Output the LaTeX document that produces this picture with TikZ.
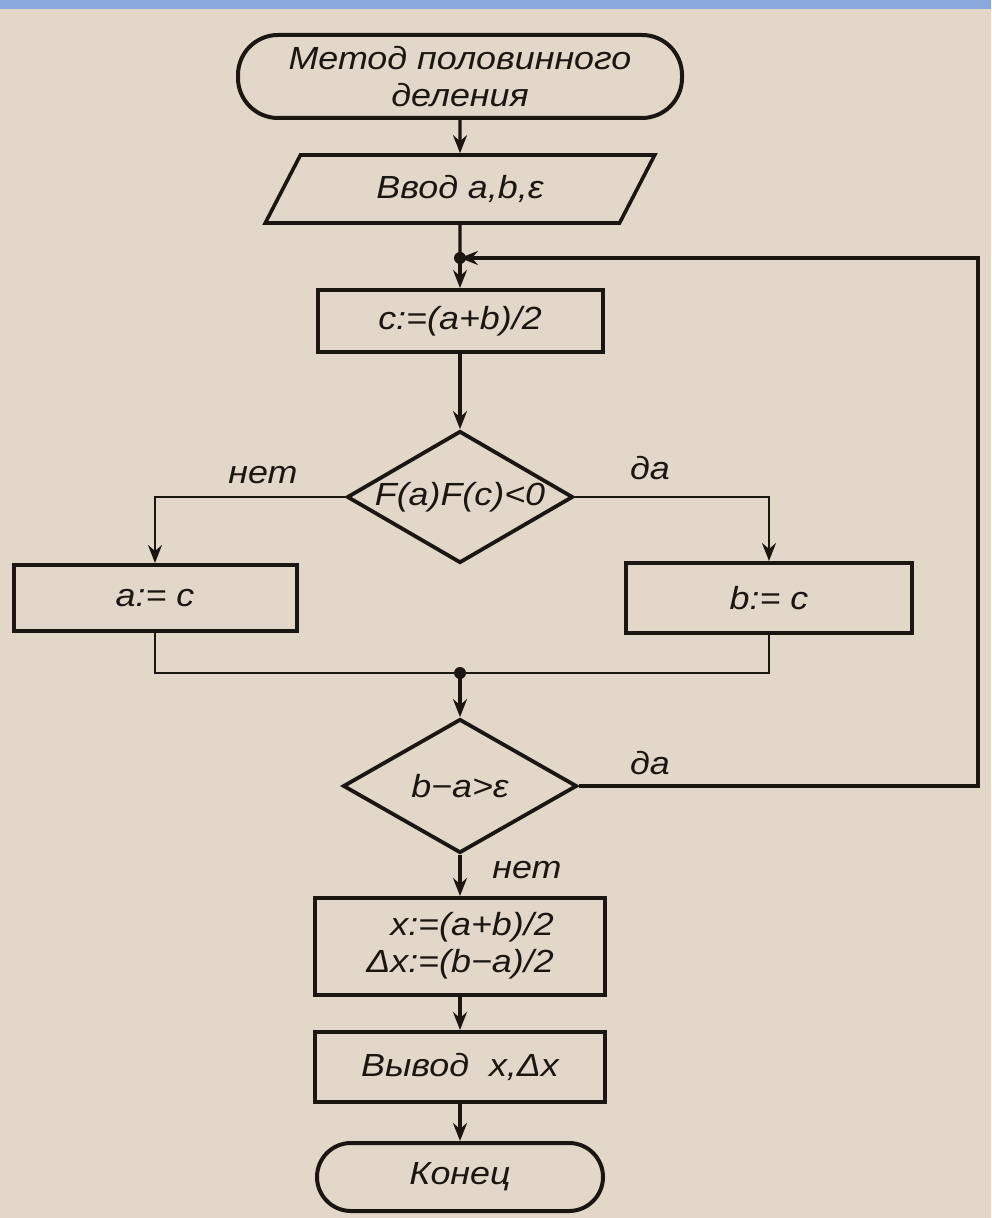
\documentclass[tikz,border=0pt]{standalone}
\usepackage{fontspec}
\setmainfont{Liberation Sans}[FakeStretch=1.12]
\usetikzlibrary{shapes.geometric,arrows.meta}
\definecolor{bg}{HTML}{E3D7C9}
\definecolor{barblue}{HTML}{8AA8DC}
\definecolor{ink}{HTML}{1C1612}
\begin{document}
\begin{tikzpicture}[x=0.5pt,y=-0.5pt,
  every node/.style={font=\fontsize{16}{18.5}\selectfont\itshape, text=ink},
  ln/.style={draw=ink, line width=1.7pt},
  thin/.style={draw=ink, line width=1.2pt},
  tip/.style={-{Stealth[length=9pt,width=7pt,inset=3pt]}},
  arr/.style={ln, tip},
  tarr/.style={thin, tip},
  blk/.style={draw=ink, line width=2pt, rectangle, inner sep=0pt, align=center},
  term/.style={blk, rounded corners=#1},
  dec/.style={draw=ink, line width=1.9pt, diamond, inner sep=0pt},
  io/.style={draw=ink, line width=1.8pt, trapezium, trapezium left angle=56,
     trapezium right angle=124, trapezium stretches=true, inner sep=0pt},
  lbl/.style={inner sep=0pt},
  dot/.style={fill=ink}]
\useasboundingbox (0,0) rectangle (991,1218);
\fill[bg] (0,0) rectangle (991,1218);
\fill[barblue] (0,0) rectangle (991,9);

\node[term=20pt, minimum width=222pt, minimum height=41.5pt] (start) at (460,76.5)
  {Метод половинного\\деления};
\node[io, minimum width=195pt, minimum height=34pt] (inp) at (460,189) {Ввод a,b,ε};
\coordinate (j1) at (460,258);
\node[blk, minimum width=142.5pt, minimum height=31pt] (cbox) at (460,321) {c:=(a+b)/2};
\node[dec, minimum width=113pt, minimum height=66pt] (d1) at (460,497)
  {\makebox[0pt]{F(a)F(c)<0}};
\node[blk, minimum width=141.5pt, minimum height=33pt] (abox) at (155,598) {a:= c};
\node[blk, minimum width=143pt, minimum height=35pt] (bbox) at (769,598) {b:= c};
\coordinate (j2) at (460,673);
\node[dec, minimum width=117pt, minimum height=67pt] (d2) at (460,786)
  {\makebox[0pt]{b−a>ε}};
\coordinate (lc) at (978,258);
\node[blk, minimum width=145pt, minimum height=48.5pt] (xbox) at (460,946.5)
  {\begin{tabular}{@{}r@{}l@{}}x&:=(a+b)/2\\Δx&:=(b−a)/2\end{tabular}};
\node[blk, minimum width=145pt, minimum height=35pt] (obox) at (460,1067) {Вывод\ \ x,Δx};
\node[term=17pt, minimum width=143pt, minimum height=34pt] (end) at (460,1177) {Конец};

\node[lbl] (l1) at (263,475) {нет};
\node[lbl] (l2) at (650,468) {да};
\node[lbl] (l3) at (650,763) {да};
\node[lbl] (l4) at (527,870) {нет};

\draw[arr] (start) -- (inp);
\draw[ln] (inp) -- (j1);
\draw[arr] (j1) -- (cbox);
\draw[arr] (cbox) -- (d1);
\draw[tarr] (d1.west) -| (abox.north);
\draw[tarr] (d1.east) -| (bbox.north);
\draw[thin] (abox.south) |- (j2);
\draw[thin] (bbox.south) |- (j2);
\draw[arr] (j2) -- (d2);
\draw[arr] (d2.east) -| (lc) -- (j1);
\draw[arr] (d2) -- (xbox);
\draw[arr] (xbox) -- (obox);
\draw[arr] (obox) -- (end);
\fill[dot] (j1) circle (3pt);
\fill[dot] (j2) circle (3pt);
\end{tikzpicture}
\end{document}
